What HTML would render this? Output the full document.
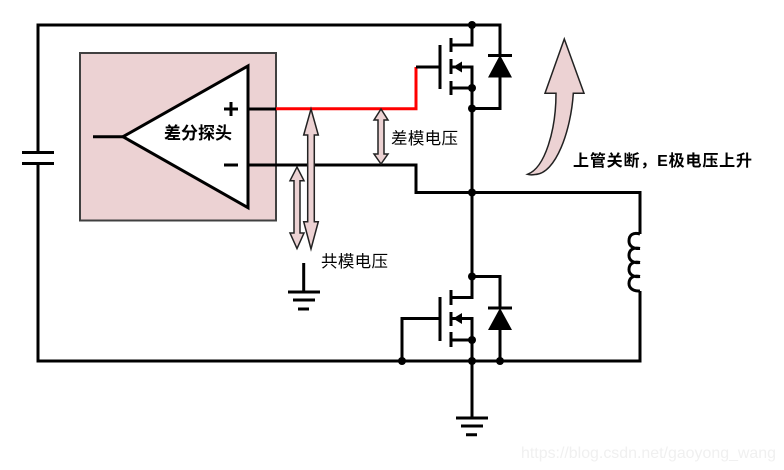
<!DOCTYPE html>
<html><head><meta charset="utf-8"><style>
html,body{margin:0;padding:0;background:#fff;width:784px;height:470px;overflow:hidden}
svg{display:block}
text{font-family:"Liberation Sans","Noto Sans CJK SC",sans-serif}
</style></head><body>
<svg width="784" height="470" viewBox="0 0 784 470" xmlns="http://www.w3.org/2000/svg">
<rect x="80" y="53" width="196" height="167.5" fill="#ecd2d3" stroke="#404040" stroke-width="2"/>
<polygon points="123,136.7 248,66 248,207.7" fill="#fff" stroke="#000" stroke-width="3"/>
<g fill="none" stroke="#000" stroke-width="3">
<path d="M93 136.7H123"/>
<path d="M248 109H276"/>
<path d="M248 165H416V192.5H640V234"/>
<path d="M640 291V361H38V163.5M22 163.5H54M22 152.5H54M38 152.5V25H500V55M500 77V108.5H472"/>
<path d="M640 234C633 232 629 235 629 241C629 246 633 249 640 248.5M640 248.5C633 247 629 250 629 255.5C629 260 633 263.500 640 262.500M640 262.500C633 261 629 264 629 269.500C629 274 633 277.500 640 276.500M640 276.500C633 275 629 278 629 283.500C629 288 633 291.500 640 291"/>
<path d="M472 25V45H451M451 38V52M451 59V74M451 81V95M440 45V89M416 67H440M451 67H462H472V192.5M451 88H472"/>
<path d="M472 192.5V297.5H451M451 290V305M451 312V326M451 332V347M440 297V341M402 361V318.5H440M451 318.5H472V418M451 340H472M472 276.5H500V308M500 329V361"/>
<path d="M488 55.5H512M488 308H512"/>
<path d="M456 418H488M461 426H483M466 434.7H477"/>
<path d="M303.7 263V292M288 292H320M293 300H315M298 309H309"/>
</g>
<path d="M276 108.700H416V67" fill="none" stroke="#f00" stroke-width="3"/>
<path d="M416 67H440" fill="none" stroke="#000" stroke-width="3"/>
<polygon points="500,55 488,77.500 512,77.500" fill="#000"/>
<polygon points="500,308 488,330 512,330" fill="#000"/>
<polygon points="453,67 462,61.500 462,72.500" fill="#000"/>
<polygon points="453,318.500 462,313 462,324" fill="#000"/>
<g fill="#000">
<circle cx="472" cy="25" r="4"/><circle cx="472" cy="88" r="4"/><circle cx="472" cy="108.500" r="4"/><circle cx="472" cy="192.500" r="4"/>
<circle cx="472" cy="276.500" r="4"/><circle cx="472" cy="340" r="4"/><circle cx="402" cy="361" r="4"/><circle cx="472" cy="361" r="4"/><circle cx="500" cy="361" r="4"/>
</g>
<path d="M224 109H238M231 102V116M224 165H238" fill="none" stroke="#000" stroke-width="3"/>
<g fill="#ecd2d3" stroke="#222" stroke-width="1.5" stroke-linejoin="miter">
<polygon points="311,109 318.300,135 314.300,135 314.300,221.700 318.300,221.700 311,249 303.700,221.700 307.700,221.700 307.700,135 303.700,135"/>
<polygon points="297,167 304,180.700 300,180.700 300,233 304,233 297,248.500 290,233 294,233 294,180.700 290,180.700"/>
<polygon points="381,109 388,120 384,120 384,154 388,154 381,164 374,154 378,154 378,120 374,120"/>
<path d="M564.300 39L584 93.300H573.300C571 130 556 174 535 174.500C532 175 529 174.800 527.500 174.300C545 168 556 130 556 93.300H545Z"/>
</g>
<text x="164" y="139" font-size="17" font-weight="bold" fill="#000" textLength="68" lengthAdjust="spacing">差分探头</text>
<text x="391" y="144" font-size="16.500" fill="#000" textLength="67" lengthAdjust="spacing">差模电压</text>
<text x="321" y="267" font-size="16.500" fill="#000" textLength="67" lengthAdjust="spacing">共模电压</text>
<text x="573" y="166" font-size="16" font-weight="bold" fill="#000" textLength="179" lengthAdjust="spacing">上管关断，E极电压上升</text>
<text x="521" y="458" font-size="16" fill="#f0f0f0" textLength="255" lengthAdjust="spacingAndGlyphs">https://blog.csdn.net/gaoyong_wang</text>
</svg>
</body></html>
